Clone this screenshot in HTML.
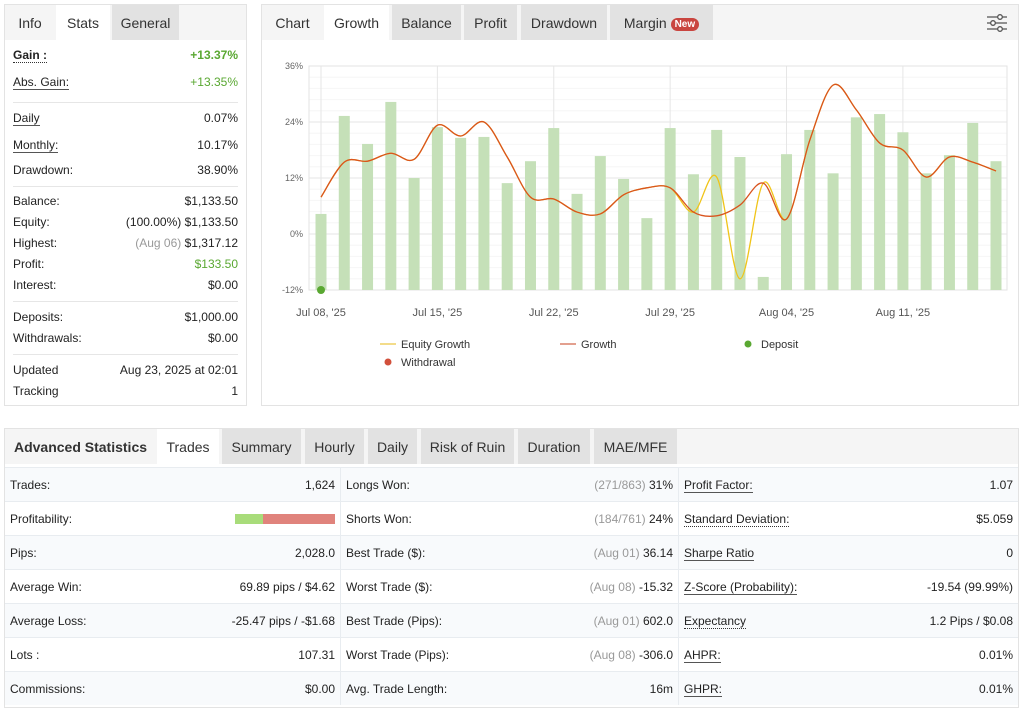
<!DOCTYPE html>
<html><head><meta charset="utf-8">
<style>
*{box-sizing:border-box;margin:0;padding:0}
body{width:1021px;height:709px;background:#fff;font-family:"Liberation Sans",Arial,sans-serif;color:#333;position:relative;overflow:hidden}
.panel{position:absolute;border:1px solid #e3e3e3;background:#fff}
.tabbar{position:absolute;left:0;top:0;right:0;height:35px;background:#f5f5f5}
.tab{position:absolute;top:0;height:35px;line-height:37px;font-size:14px;text-align:center;color:#333;background:#e2e2e2}
.tab.white{background:#fff}
.tab.plain{background:transparent}
.row{position:absolute;left:8px;right:8px;font-size:12px;color:#222}
.row .l{position:absolute;left:0}
.row .v{position:absolute;right:0}
.u{border-bottom:1px solid #555}
.d{border-bottom:1px dotted #333}
.sep{position:absolute;left:8px;right:8px;height:1px;background:#e6e6e6}
.g{color:#5aa832}
.grey{color:#999}
.trow{position:absolute;left:0;right:0;height:34px;border-top:1px solid #e8ecf0;font-size:12px;color:#222}
.cell{position:absolute;top:0;height:33px;line-height:34px}
.cell .l{position:absolute;left:5px}
.cell .v{position:absolute;right:5px}
</style></head><body>

<div class="panel" style="left:4px;top:4px;width:243px;height:402px">
  <div class="tabbar">
    <div class="tab plain" style="left:0;width:50px">Info</div>
    <div class="tab white" style="left:51px;width:54px">Stats</div>
    <div class="tab" style="left:107px;width:67px">General</div>
  </div>
  <div class="row" style="top:43px"><span class="l d" style="font-weight:bold">Gain :</span><span class="v g" style="font-weight:bold">+13.37%</span></div>
  <div class="row" style="top:70px"><span class="l u">Abs. Gain:</span><span class="v g">+13.35%</span></div>
  <div class="sep" style="top:97px"></div>
  <div class="row" style="top:106px"><span class="l u">Daily</span><span class="v">0.07%</span></div>
  <div class="row" style="top:133px"><span class="l u">Monthly:</span><span class="v">10.17%</span></div>
  <div class="row" style="top:158px"><span class="l">Drawdown:</span><span class="v">38.90%</span></div>
  <div class="sep" style="top:181px"></div>
  <div class="row" style="top:189px"><span class="l">Balance:</span><span class="v">$1,133.50</span></div>
  <div class="row" style="top:210px"><span class="l">Equity:</span><span class="v">(100.00%) $1,133.50</span></div>
  <div class="row" style="top:231px"><span class="l">Highest:</span><span class="v"><span class="grey">(Aug 06)</span> $1,317.12</span></div>
  <div class="row" style="top:252px"><span class="l">Profit:</span><span class="v g">$133.50</span></div>
  <div class="row" style="top:273px"><span class="l">Interest:</span><span class="v">$0.00</span></div>
  <div class="sep" style="top:296px"></div>
  <div class="row" style="top:305px"><span class="l">Deposits:</span><span class="v">$1,000.00</span></div>
  <div class="row" style="top:326px"><span class="l">Withdrawals:</span><span class="v">$0.00</span></div>
  <div class="sep" style="top:349px"></div>
  <div class="row" style="top:358px"><span class="l">Updated</span><span class="v">Aug 23, 2025 at 02:01</span></div>
  <div class="row" style="top:379px"><span class="l">Tracking</span><span class="v">1</span></div>
</div>

<div class="panel" style="left:261px;top:4px;width:758px;height:402px">
  <div class="tabbar">
    <div class="tab plain" style="left:0;width:61px">Chart</div>
    <div class="tab white" style="left:62px;width:65px">Growth</div>
    <div class="tab" style="left:130px;width:69px">Balance</div>
    <div class="tab" style="left:202px;width:53px">Profit</div>
    <div class="tab" style="left:259px;width:86px">Drawdown</div>
    <div class="tab" style="left:348px;width:103px">Margin <span style="display:inline-block;background:#c9453f;color:#fff;font-size:10px;font-weight:bold;line-height:13px;padding:0 4px;border-radius:7px;vertical-align:1px">New</span></div>
    <svg style="position:absolute;left:724px;top:8px" width="22" height="20" viewBox="0 0 22 20"><g stroke="#555" stroke-width="1.3" fill="#fff"><line x1="1" y1="4" x2="21" y2="4"/><line x1="1" y1="10" x2="21" y2="10"/><line x1="1" y1="16" x2="21" y2="16"/><circle cx="14" cy="4" r="2.3"/><circle cx="7" cy="10" r="2.3"/><circle cx="14" cy="16" r="2.3"/></g></svg>
  </div>
</div>
<svg id="chart" style="position:absolute;left:0;top:0" width="1021" height="420"></svg>

<div class="panel" style="left:4px;top:428px;width:1015px;height:280px">
  <div class="tabbar">
    <div class="tab plain" style="left:0;width:151px;font-weight:bold;color:#333">Advanced Statistics</div>
    <div class="tab white" style="left:152px;width:62px">Trades</div>
    <div class="tab" style="left:217px;width:79px">Summary</div>
    <div class="tab" style="left:300px;width:59px">Hourly</div>
    <div class="tab" style="left:363px;width:49px">Daily</div>
    <div class="tab" style="left:416px;width:93px">Risk of Ruin</div>
    <div class="tab" style="left:513px;width:72px">Duration</div>
    <div class="tab" style="left:589px;width:83px">MAE/MFE</div>
  </div>
  <div id="rows" style="position:absolute;left:0;right:0;top:38px"></div>
</div>

<script>
// ---- chart data ----
const barLabels = ["Jul 08","Jul 09","Jul 10","Jul 11","Jul 14","Jul 15","Jul 16","Jul 17","Jul 18","Jul 21","Jul 22","Jul 23","Jul 24","Jul 25","Jul 28","Jul 29","Jul 30","Jul 31","Aug 01","Aug 04","Aug 05","Aug 06","Aug 07","Aug 08","Aug 11","Aug 12","Aug 13","Aug 14","Aug 15","Aug 18"];
const barValues = [4.3,25.3,19.3,28.3,12,22.9,20.6,20.8,10.9,15.6,22.7,8.6,16.7,11.8,3.4,22.7,12.8,22.3,16.5,-9.2,17.1,22.3,13,25,25.7,21.8,13,16.9,23.8,15.6];
const growthValues = [7.9,15.4,15.6,17.3,16,23.3,21,24,16.5,7.9,7.5,4.7,4.3,8.4,9.9,9.9,4.7,3.9,6.2,10.9,3.2,20.1,31.9,26.6,19.5,18,12.2,16.5,15.4,13.5];
const equityValues = [7.9,15.4,15.6,17.3,16,23.3,21,24,16.5,7.9,7.5,4.7,4.3,8.4,9.9,9.9,4.7,12.2,-9.6,10.9,3.2,20.1,31.9,26.6,19.5,18,12.2,16.5,15.4,13.5];
const depositIndex = [0];
const depositValues = [-12];
const yTicks = [36,24,12,0,-12];
const xTickIdx = [0,5,10,15,20,25];
const xTickLabels = ["Jul 08, '25","Jul 15, '25","Jul 22, '25","Jul 29, '25","Aug 04, '25","Aug 11, '25"];

const NS="http://www.w3.org/2000/svg";
const svg=document.getElementById('chart');
const X0=309,X1=1007,Y0=66,Y1=290,YMIN=-12,YMAX=36;
const step=(996-321)/(barValues.length-1);
const xs=i=>321+i*step;
const ys=v=>Y1-(v-YMIN)/(YMAX-YMIN)*(Y1-Y0);
function mk(tag,attrs,parent){const e=document.createElementNS(NS,tag);for(const k in attrs)e.setAttribute(k,attrs[k]);(parent||svg).appendChild(e);return e;}

for(let v=YMIN;v<=YMAX+0.01;v+=2.4){const l=mk('line',{x1:X0,x2:X1,y1:ys(v),y2:ys(v),stroke:'#f6f6f6'});}
yTicks.forEach(v=>{
  const l=mk('line',{x1:X0,x2:X1,y1:ys(v),y2:ys(v),stroke:'#e6e6e6'});
  
  
  const t=mk('text',{x:303,y:ys(v)+3,'text-anchor':'end','font-size':'9','fill':'#666','font-family':'Liberation Sans,sans-serif'});
  t.textContent=v+'%';
  
  
});
xTickIdx.forEach((idx,k)=>{
  const l=mk('line',{x1:xs(idx),x2:xs(idx),y1:Y0,y2:Y1,stroke:'#e6e6e6'});
  
  
  const t=mk('text',{x:xs(idx),y:316,'text-anchor':'middle','font-size':'11','fill':'#555','font-family':'Liberation Sans,sans-serif'});
  t.textContent=xTickLabels[k];
  
  
});
const frame=mk('rect',{x:X0,y:Y0,width:X1-X0,height:Y1-Y0,fill:'none',stroke:'#e3e3e3'});



barValues.forEach((v,i)=>{
  const r=mk('rect',{x:xs(i)-5.5,y:ys(v),width:11,height:Y1-ys(v),fill:'#c5e0b8'});
  
  
});

function spline(vals){
  const p=vals.map((v,i)=>[xs(i),ys(v)]);
  let d='M'+p[0][0]+','+p[0][1];
  for(let i=0;i<p.length-1;i++){
    const p0=p[i-1]||p[i],p1=p[i],p2=p[i+1],p3=p[i+2]||p[i+1];
    const t=1/6;
    const c1=[p1[0]+(p2[0]-p0[0])*t,p1[1]+(p2[1]-p0[1])*t];
    const c2=[p2[0]-(p3[0]-p1[0])*t,p2[1]-(p3[1]-p1[1])*t];
    d+=' C'+c1.join(',')+' '+c2.join(',')+' '+p2.join(',');
  }
  return d;
}
const eq=mk('path',{d:spline(equityValues),fill:'none',stroke:'#f0c419','stroke-width':1.3});


const gr=mk('path',{d:spline(growthValues),fill:'none',stroke:'#d9541e','stroke-width':1.3});


depositIndex.forEach((idx,k)=>{
  const c=mk('circle',{cx:xs(idx),cy:ys(depositValues[k]),r:4,fill:'#5aa832'});
  
  
});

function legend(name,x,y,type,color,label){
  const g=mk('g',{});
  
  
  if(type==='line')mk('line',{x1:x,x2:x+16,y1:y,y2:y,stroke:color,'stroke-width':2},g);
  else mk('circle',{cx:x+8,cy:y,r:3.5,fill:color},g);
  const t=mk('text',{x:x+21,y:y+4,'font-size':'11','fill':'#333','font-family':'Liberation Sans,sans-serif'},g);
  t.textContent=label;
}
legend('legend-equity-growth',380,344,'line','#f3dc8a','Equity Growth');
legend('legend-growth',560,344,'line','#e3a08f','Growth');
legend('legend-deposit',740,344,'dot','#5aa832','Deposit');
legend('legend-withdrawal',380,362,'dot','#d2503b','Withdrawal');

const rowsData=[
 [["Trades:","1,624"],["Longs Won:","(271/863)","31%"],["Profit Factor:","1.07","u"]],
 [["Profitability:","BAR"],["Shorts Won:","(184/761)","24%"],["Standard Deviation:","$5.059","d"]],
 [["Pips:","2,028.0"],["Best Trade ($):","(Aug 01)","36.14"],["Sharpe Ratio","0","u"]],
 [["Average Win:","69.89 pips / $4.62"],["Worst Trade ($):","(Aug 08)","-15.32"],["Z-Score (Probability):","-19.54 (99.99%)","u"]],
 [["Average Loss:","-25.47 pips / -$1.68"],["Best Trade (Pips):","(Aug 01)","602.0"],["Expectancy","1.2 Pips / $0.08","d"]],
 [["Lots :","107.31"],["Worst Trade (Pips):","(Aug 08)","-306.0"],["AHPR:","0.01%","u"]],
 [["Commissions:","$0.00"],["Avg. Trade Length:","","16m"],["GHPR:","0.01%","u"]]
];
const rows=document.getElementById('rows');
rowsData.forEach((r,i)=>{
  const d=document.createElement('div');
  d.className='trow';
  d.style.top=(i*34)+'px';
  d.style.background=i%2===0?'#f8fafc':'#fff';
  
  
  let v1=r[0][1]==='BAR'?'<span style="position:absolute;right:0;top:12px;width:100px;height:10px;background:#e0837c"><span style="position:absolute;left:0;top:0;width:28px;height:10px;background:#a8dc7a"></span></span>':r[0][1];
  const gr2=r[1][1]?'<span class="grey">'+r[1][1]+'</span> ':'';
  d.innerHTML='<div class="cell" style="left:0;width:336px;border-right:1px solid #e8ecf0"><span class="l">'+r[0][0]+'</span><span class="v" style="'+(r[0][1]==='BAR'?'width:100px;height:33px':'')+'">'+v1+'</span></div>'+
   '<div class="cell" style="left:336px;width:338px;border-right:1px solid #e8ecf0"><span class="l">'+r[1][0]+'</span><span class="v">'+gr2+r[1][2]+'</span></div>'+
   '<div class="cell" style="left:674px;width:339px"><span class="l"><span class="'+r[2][2]+'" style="line-height:14px;display:inline-block">'+r[2][0]+'</span></span><span class="v">'+r[2][1]+'</span></div>';
  rows.appendChild(d);
});
</script>
</body></html>
